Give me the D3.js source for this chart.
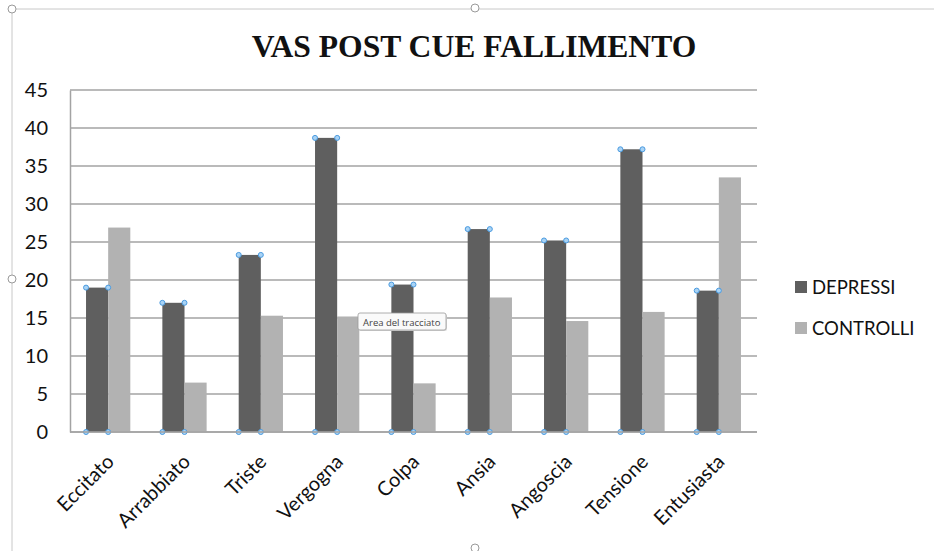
<!DOCTYPE html>
<html>
<head>
<meta charset="utf-8">
<script src="https://cdnjs.cloudflare.com/ajax/libs/d3/7.8.5/d3.min.js"></script>
<style>
  body { margin: 0; background: #fff; }
</style>
</head>
<body>
<div id="chart"></div>
<script>
var categories = ["Eccitato", "Arrabbiato", "Triste", "Vergogna", "Colpa", "Ansia", "Angoscia", "Tensione", "Entusiasta"];
var depressi = [19.0, 17.0, 23.3, 38.7, 19.4, 26.7, 25.2, 37.2, 18.6];
var controlli = [26.9, 6.5, 15.3, 15.2, 6.4, 17.7, 14.6, 15.8, 33.5];
var seriesNames = ["DEPRESSI", "CONTROLLI"];
var yTicks = [0, 5, 10, 15, 20, 25, 30, 35, 40, 45];

var width = 934, height = 551;
var colors = ["#5f5f5f", "#b2b2b2"];
var font = "Lato, 'Open Sans', sans-serif";

var svg = d3.select("#chart").append("svg")
  .attr("width", width).attr("height", height);

// selection frame of the chart object
svg.append("path")
  .attr("d", "M12,551 L12,9 L934,9")
  .attr("fill", "none").attr("stroke", "#c8c8c8").attr("stroke-width", 1);
[[12, 9], [475, 8], [12, 279], [475, 548]].forEach(function(p) {
  svg.append("circle").attr("cx", p[0]).attr("cy", p[1]).attr("r", 4)
    .attr("fill", "#fff").attr("stroke", "#9a9a9a").attr("stroke-width", 1);
});

var x0 = d3.scaleBand().domain(categories).range([70, 757]).paddingInner(0.42).paddingOuter(0.21);
var x1 = d3.scaleBand().domain(seriesNames).range([0, x0.bandwidth()]);
var y = d3.scaleLinear().domain([0, 45]).range([432, 90]);

// gridlines
svg.append("g").selectAll("line").data(yTicks).enter().append("line")
  .attr("x1", 70).attr("x2", 757)
  .attr("y1", function(d) { return y(d); }).attr("y2", function(d) { return y(d); })
  .attr("stroke", "#a3a3a3").attr("stroke-width", 1.5);

// y axis
var yAxis = svg.append("g").attr("transform", "translate(70,0)")
  .call(d3.axisLeft(y).tickValues(yTicks).tickSize(0).tickPadding(22));
yAxis.select(".domain").attr("stroke", "#a3a3a3").attr("stroke-width", 1.5);
yAxis.selectAll("text")
  .attr("font-family", font).attr("font-size", 20).attr("fill", "#111");

var data = categories.map(function(c, i) {
  return { cat: c, values: [{ s: seriesNames[0], v: depressi[i] }, { s: seriesNames[1], v: controlli[i] }] };
});

var groups = svg.selectAll(".grp").data(data).enter().append("g")
  .attr("transform", function(d) { return "translate(" + x0(d.cat) + ",0)"; });

groups.selectAll("rect").data(function(d) { return d.values; }).enter().append("rect")
  .attr("x", function(d) { return x1(d.s); })
  .attr("y", function(d) { return y(d.v); })
  .attr("width", x1.bandwidth())
  .attr("height", function(d) { return y(0) - y(d.v); })
  .attr("fill", function(d, i) { return colors[i]; });

// x axis line
svg.append("line").attr("x1", 70).attr("x2", 757).attr("y1", y(0)).attr("y2", y(0))
  .attr("stroke", "#a3a3a3").attr("stroke-width", 1.5);

// selection handles on depressi bars
groups.each(function(d) {
  var g = d3.select(this);
  var bx = x1(seriesNames[0]), bw = x1.bandwidth(), top = y(d.values[0].v);
  [[bx, top], [bx + bw, top], [bx, y(0)], [bx + bw, y(0)]].forEach(function(p) {
    g.append("circle").attr("cx", p[0]).attr("cy", p[1]).attr("r", 2.5)
      .attr("fill", "#a9d3f5").attr("stroke", "#4a9be0").attr("stroke-width", 1);
  });
});

// x labels rotated
svg.append("g").selectAll("text").data(categories).enter().append("text")
  .attr("transform", function(d) {
    return "translate(" + (x0(d) + x0.bandwidth() / 2 + 7) + ",463) rotate(-45)";
  })
  .attr("text-anchor", "end")
  .attr("font-family", font).attr("font-size", 20).attr("fill", "#111")
  .text(function(d) { return d; });

// title
svg.append("text").attr("x", 474).attr("y", 57).attr("text-anchor", "middle")
  .attr("font-family", "'Liberation Serif', 'Times New Roman', serif")
  .attr("font-weight", "bold").attr("font-size", 31.6).attr("fill", "#111")
  .text("VAS POST CUE FALLIMENTO");

// legend
var legend = svg.append("g").selectAll("g").data(seriesNames).enter().append("g")
  .attr("transform", function(d, i) { return "translate(795," + (287 + i * 41) + ")"; });
legend.append("rect").attr("x", 0).attr("y", -6).attr("width", 12).attr("height", 12)
  .attr("fill", function(d, i) { return colors[i]; });
legend.append("text").attr("x", 17).attr("y", 0).attr("dy", "0.36em")
  .attr("font-family", font).attr("font-size", 18.5).attr("fill", "#111")
  .text(function(d) { return d; });

// tooltip
var tip = svg.append("g").attr("transform", "translate(358,313)");
tip.append("rect").attr("x", 1).attr("y", 1).attr("width", 88).attr("height", 17).attr("rx", 2)
  .attr("fill", "#d8d8d8");
tip.append("rect").attr("x", 0).attr("y", 0).attr("width", 88).attr("height", 17).attr("rx", 2)
  .attr("fill", "#fafafa").attr("stroke", "#9a9a9a").attr("stroke-width", 0.8);
tip.append("text").attr("x", 5).attr("y", 12.5)
  .attr("font-family", "'Open Sans', sans-serif").attr("font-size", 9.5).attr("fill", "#444")
  .text("Area del tracciato");
</script>
</body>
</html>
